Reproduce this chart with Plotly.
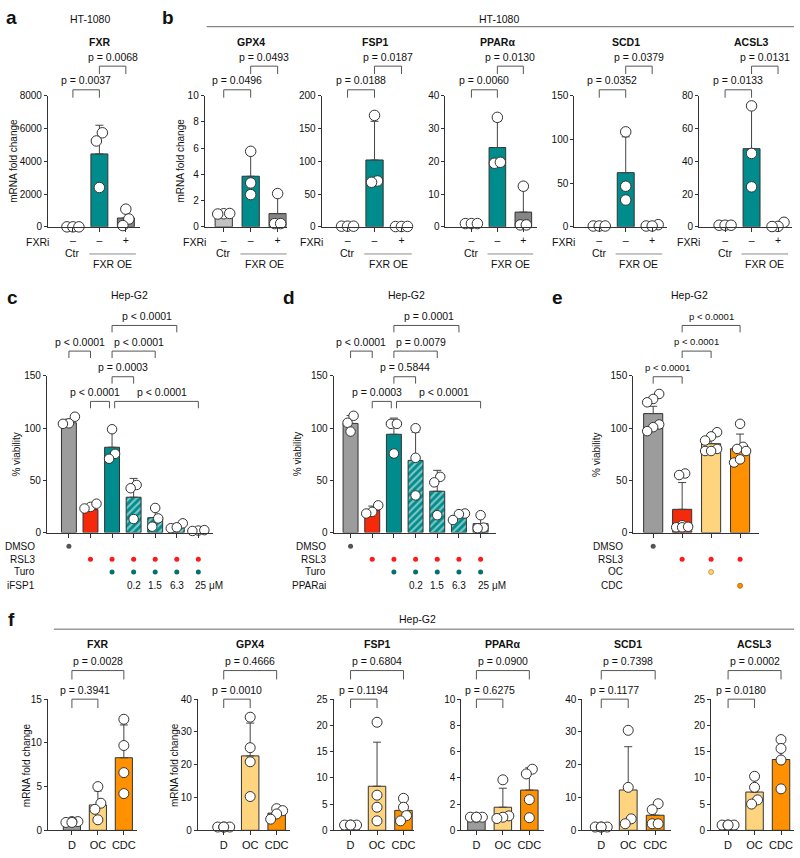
import plotly.graph_objects as go

# ======================= DATA =======================
# HT-1080 (panels a, b)
HT_groups = ["Ctr", "FXR OE", "FXR OE + FXRi"]
HT_fxri = ["–", "–", "+"]
HT_genes = ["FXR", "GPX4", "FSP1", "PPARα", "SCD1", "ACSL3"]

HT_FXR_mean = [1, 4450, 540]
HT_FXR_sd = [0, 1750, 500]
HT_FXR_pts = [[1, 1, 1], [5740, 5240, 2400], [1080, 480, 80]]
HT_FXR_p = ["p = 0.0037", "p = 0.0068"]

HT_GPX4_mean = [1.0, 3.86, 1.01]
HT_GPX4_sd = [0.02, 1.70, 1.32]
HT_GPX4_pts = [[1.0, 0.98, 1.02], [5.76, 3.35, 2.46], [2.54, 0.25, 0.25]]
HT_GPX4_p = ["p = 0.0496", "p = 0.0493"]

HT_FSP1_mean = [1.0, 102, 0.6]
HT_FSP1_sd = [0.0, 59, 0.1]
HT_FSP1_pts = [[1, 1, 1], [170, 70, 68], [0.5, 0.6, 0.7]]
HT_FSP1_p = ["p = 0.0188", "p = 0.0187"]

HT_PPARA_mean = [1.0, 24.2, 4.5]
HT_PPARA_sd = [0.05, 8.0, 6.8]
HT_PPARA_pts = [[1, 1, 1], [33.4, 19.4, 19.7], [12.4, 0.6, 0.6]]
HT_PPARA_p = ["p = 0.0060", "p = 0.0130"]

HT_SCD1_mean = [1.0, 62, 1.5]
HT_SCD1_sd = [0.0, 41, 0.8]
HT_SCD1_pts = [[1, 1, 1], [108.7, 46.5, 30.7], [2.5, 1, 1]]
HT_SCD1_p = ["p = 0.0352", "p = 0.0379"]

HT_ACSL3_mean = [1.0, 47.7, 1.1]
HT_ACSL3_sd = [0.0, 24.8, 1.5]
HT_ACSL3_pts = [[1, 1, 1], [73.8, 44.8, 24.4], [2.8, 0.3, 0.2]]
HT_ACSL3_p = ["p = 0.0133", "p = 0.0131"]

# Hep-G2 viability (panel c, iFSP1)
C_groups = ["DMSO", "RSL3", "RSL3+Turo", "iFSP1 0.2", "iFSP1 1.5", "iFSP1 6.3", "iFSP1 25"]
C_mean = [105, 22, 81.6, 33.8, 14.2, 6.0, 2.0]
C_sd = [3.5, 2.5, 14.5, 18, 9, 2.4, 0.4]
C_pts = [[110.8, 104.5, 104], [24.5, 27.6, 23], [98.8, 75.3, 70.6], [45.5, 42.4, 12.9],
         [23.5, 13.5, 5.6], [8.8, 4.1, 5.0], [1.9, 1.5, 2.3]]
C_dose = ["0.2", "1.5", "6.3", "25 μM"]
C_p = ["p < 0.0001", "p < 0.0001", "p = 0.0003", "p < 0.0001", "p < 0.0001", "p < 0.0001"]

# Hep-G2 viability (panel d, PPARai)
D_mean = [104.4, 21.3, 94, 69, 39.5, 15.5, 8.5]
D_sd = [7.5, 4, 15.5, 27, 20, 3.5, 6.5]
D_pts = [[111.7, 105, 96.6], [26, 19.8, 18.2], [104, 104, 75.6], [99.8, 71.5, 35.5],
         [53.3, 48, 16.6], [18.2, 17.6, 12], [16.6, 4.7, 4.1]]
D_dose = ["0.2", "1.5", "6.3", "25 μM"]
D_p = ["p < 0.0001", "p = 0.0003", "p = 0.5844", "p = 0.0079", "p = 0.0001", "p < 0.0001"]

# treatment matrix (c, d)
CD_dmso = [1, 0, 0, 0, 0, 0, 0]
CD_rsl3 = [0, 1, 1, 1, 1, 1, 1]
CD_turo = [0, 0, 1, 1, 1, 1, 1]

# Hep-G2 viability (panel e, bile acids)
E_groups = ["DMSO", "RSL3", "RSL3+OC", "RSL3+CDC"]
E_mean = [113.8, 22.2, 85.0, 80.2]
E_sd = [7, 25.6, 7, 14]
E_pts = [[132.6, 127.8, 124.6, 103.4, 100.8, 97],
         [56.5, 55, 7, 5, 5, 5.5],
         [96, 92, 88, 80, 78, 78],
         [104, 82, 80, 78, 67, 70]]
E_dmso = [1, 0, 0, 0]
E_rsl3 = [0, 1, 1, 1]
E_oc = [0, 0, 1, 0]
E_cdc = [0, 0, 0, 1]
E_p = ["p < 0.0001", "p < 0.0001", "p < 0.0001"]

# Hep-G2 mRNA (panel f)
F_groups = ["D", "OC", "CDC"]

F_FXR_mean = [0.95, 2.9, 8.3]
F_FXR_sd = [0.1, 1.6, 3.75]
F_FXR_pts = [[1.0, 1.0, 0.9, 0.9], [5.0, 3.1, 2.4, 1.2], [12.7, 9.7, 6.6, 4.2]]
F_FXR_p = ["p = 0.3941", "p = 0.0028"]

F_GPX4_mean = [1.0, 22.7, 5.25]
F_GPX4_sd = [0.1, 10.0, 1.4]
F_GPX4_pts = [[1, 1, 1, 1], [34.5, 25.2, 20.9, 10.3], [6.6, 6.0, 5.0, 3.4]]
F_GPX4_p = ["p = 0.0010", "p = 0.4666"]

F_FSP1_mean = [1.0, 8.4, 3.8]
F_FSP1_sd = [0.1, 8.4, 1.9]
F_FSP1_pts = [[1, 1, 1, 1], [20.6, 6.7, 4.4, 1.8], [6.1, 4.4, 2.8, 1.8]]
F_FSP1_p = ["p = 0.1194", "p = 0.6804"]

F_PPARA_mean = [1.0, 1.76, 3.07]
F_PPARA_sd = [0.05, 1.45, 1.7]
F_PPARA_pts = [[1, 1, 1, 1], [3.85, 1.1, 1.0, 0.9], [4.66, 4.3, 2.34, 0.96]]
F_PPARA_p = ["p = 0.6275", "p = 0.0900"]

F_SCD1_mean = [1.0, 12.3, 4.6]
F_SCD1_sd = [0.1, 13.2, 2.9]
F_SCD1_pts = [[1, 1, 1, 1], [30.5, 13.1, 3.5, 2.0], [8.1, 6.3, 2.0, 2.0]]
F_SCD1_p = ["p = 0.1177", "p = 0.7398"]

F_ACSL3_mean = [1.0, 7.3, 13.5]
F_ACSL3_sd = [0.1, 2.4, 4.0]
F_ACSL3_pts = [[1, 1, 1, 1], [10.3, 8.2, 5.8, 5.0], [17.3, 15.6, 13.4, 7.9]]
F_ACSL3_p = ["p = 0.0180", "p = 0.0002"]

# ======================= STYLE / LAYOUT =======================
W, H = 800, 858
FONT = "Liberation Sans, Arial, Helvetica, sans-serif"
TEAL = "#008C8C"
RED = "#F52A0A"
GRAY_L = "#C2C2C2"
GRAY_D = "#858585"
GRAY_M = "#9C9C9C"
OC_C = "#FFD47F"
CDC_C = "#FF9100"
LINE = "#333333"
BRK = "#555555"
FS = 10.5
TICK_FS = 10

fig = go.Figure()
layout = dict(width=W, height=H, margin=dict(l=0, r=0, t=0, b=0),
              paper_bgcolor="white", plot_bgcolor="rgba(0,0,0,0)", showlegend=False,
              font=dict(family=FONT, size=FS, color="#111"))
shapes = []
annotations = []
count = [0]


def X(px):
    return px / W


def Y(py):
    return 1 - py / H


def text(x, y, t, xref="paper", size=FS, bold=False, xanchor="center",
         yanchor="middle", angle=0, xshift=0, color="#111"):
    if bold:
        t = "<b>" + t + "</b>"
    annotations.append(dict(x=x, y=y, xref=xref, yref="paper", text=t, showarrow=False,
                            font=dict(size=size, family=FONT, color=color),
                            xanchor=xanchor, yanchor=yanchor, textangle=angle, xshift=xshift))


def hline(x0, x1, py, color="#666", width=1, xref="paper"):
    shapes.append(dict(type="line", xref=xref, yref="paper", x0=x0, x1=x1, y0=Y(py), y1=Y(py),
                       line=dict(color=color, width=width)))


def jitter(vals, ymax, hpx, step_px, gap=8.5, spread=6.0):
    n = len(vals)
    pys = [v / ymax * hpx for v in vals]
    order = sorted(range(n), key=lambda i: pys[i])
    groups = []
    for i in order:
        if groups and pys[i] - pys[groups[-1][-1]] < gap and len(groups[-1]) < 3:
            groups[-1].append(i)
        else:
            groups.append([i])
    offs = [0.0] * n
    for g in groups:
        m = len(g)
        for j, i in enumerate(g):
            offs[i] = (j - (m - 1) / 2) * spread / step_px
    return offs


def panel(mean, sd, pts, colors, ymax, dtick, ax_px, bar1_px, step_px, right_px, ytop, ybot,
          bw, msize, ticktext=None, patterns=None, xfs=FS):
    count[0] += 1
    k = count[0]
    xa = "x" if k == 1 else "x%d" % k
    ya = "y" if k == 1 else "y%d" % k
    xk = "xaxis" if k == 1 else "xaxis%d" % k
    yk = "yaxis" if k == 1 else "yaxis%d" % k
    n = len(mean)
    lo = -(bar1_px - ax_px) / step_px
    hi = (right_px - bar1_px) / step_px
    layout[xk] = dict(domain=[X(ax_px), X(right_px)], range=[lo, hi], anchor=ya,
                      showline=True, linecolor=LINE, linewidth=1, ticks="outside", ticklen=4,
                      tickcolor=LINE, tickwidth=1, tickvals=list(range(n)),
                      ticktext=ticktext if ticktext else [""] * n,
                      showticklabels=bool(ticktext), tickfont=dict(size=xfs, family=FONT, color="#111"),
                      showgrid=False, zeroline=False, fixedrange=True)
    layout[yk] = dict(domain=[Y(ybot), Y(ytop)], range=[0, ymax], anchor=xa,
                      showline=True, linecolor=LINE, linewidth=1, ticks="outside", ticklen=3,
                      tickcolor=LINE, tickwidth=1, tickvals=list(range(0, ymax + 1, dtick)),
                      tickfont=dict(size=TICK_FS, family=FONT, color="#111"),
                      showgrid=False, zeroline=False, fixedrange=True)
    pat = dict(shape=patterns if patterns else [""] * n, fgcolor="white", fillmode="overlay",
               size=5, solidity=0.42)
    fig.add_bar(x=list(range(n)), y=mean, width=bw, xaxis=xa, yaxis=ya,
                marker=dict(color=colors, line=dict(color=LINE, width=1), pattern=pat),
                error_y=dict(type="data", array=sd, arrayminus=[0] * n, symmetric=False,
                             color="#444", thickness=1, width=4),
                hoverinfo="skip")
    xs, ys = [], []
    for i, p in enumerate(pts):
        offs = jitter(p, ymax, ybot - ytop, step_px)
        xs += [i + o for o in offs]
        ys += list(p)
    fig.add_scatter(x=xs, y=ys, xaxis=xa, yaxis=ya, mode="markers", cliponaxis=False,
                    marker=dict(size=msize, color="white", line=dict(color=LINE, width=1)),
                    hoverinfo="skip")
    return xa, ya


def bracket(xa, a, b, py, t, leg=8, gap=9.5, size=FS, xshift=0):
    shapes.append(dict(type="path", xref=xa, yref="paper",
                       path="M %f,%f L %f,%f L %f,%f L %f,%f" % (a, Y(py + leg), a, Y(py), b, Y(py), b, Y(py + leg)),
                       line=dict(color=BRK, width=1)))
    text((a + b) / 2, Y(py - gap), t, xref=xa, size=size, xshift=xshift)


def dot_row(xa, flags, py, color, outline=None, r=2.5):
    for i, f in enumerate(flags):
        if not f:
            continue
        shapes.append(dict(type="circle", xref=xa, yref="paper", xsizemode="pixel", ysizemode="pixel",
                           xanchor=i, yanchor=Y(py), x0=-r, x1=r, y0=-r, y1=r,
                           fillcolor=color, line=dict(width=0.8 if outline else 0,
                                                      color=outline if outline else color)))


# ---------------- Row 1: HT-1080 (a, b) ----------------
R1_TOP, R1_BOT = 91, 224
row1 = [
    (HT_FXR_mean, HT_FXR_sd, HT_FXR_pts, HT_FXR_p, 8000, 2000, 48, 73, 26.5, 140, True),
    (HT_GPX4_mean, HT_GPX4_sd, HT_GPX4_pts, HT_GPX4_p, 10, 2, 205, 224, 27, 287, True),
    (HT_FSP1_mean, HT_FSP1_sd, HT_FSP1_pts, HT_FSP1_p, 200, 50, 322, 348, 27, 413, True),
    (HT_PPARA_mean, HT_PPARA_sd, HT_PPARA_pts, HT_PPARA_p, 40, 10, 446, 472, 26, 538, False),
    (HT_SCD1_mean, HT_SCD1_sd, HT_SCD1_pts, HT_SCD1_p, 150, 50, 575, 600, 26.5, 668, True),
    (HT_ACSL3_mean, HT_ACSL3_sd, HT_ACSL3_pts, HT_ACSL3_p, 80, 20, 700, 726, 26.5, 793, True),
]
for gi, (m, s, p, pv, ymax, dt, axp, b1, st, rp, lab) in enumerate(row1):
    xa, ya = panel(m, s, p, [GRAY_L, TEAL, GRAY_D], ymax, dt, axp, b1, st, rp, R1_TOP, R1_BOT,
                   0.64, 10.5, ticktext=HT_fxri)
    text(1, Y(37), HT_genes[gi], xref=xa, bold=True)
    bracket(xa, 0, 1, 85, pv[0])
    bracket(xa, 1, 2, 61, pv[1])
    if lab:
        text(X(axp + 3), Y(239), "FXRi", xanchor="right")
    text(0, Y(250), HT_groups[0], xref=xa)
    shapes.append(dict(type="line", xref=xa, yref="paper", x0=0.62, x1=2.38, y0=Y(251.5), y1=Y(251.5),
                       line=dict(color="#8a8a8a", width=1)))
    text(1.5, Y(262), "FXR OE", xref=xa)

text(X(14), Y(157), "mRNA fold change", angle=-90, size=10)
text(X(181), Y(157), "mRNA fold change", angle=-90, size=10)
text(X(90), Y(13), "HT-1080")
text(X(500), Y(13), "HT-1080")
hline(X(207), X(795), 21)
text(X(4), Y(12), "a", bold=True, size=19, xanchor="left")
text(X(160), Y(12), "b", bold=True, size=19, xanchor="left")

# ---------------- Row 2: Hep-G2 viability (c, d, e) ----------------
R2_TOP, R2_BOT = 375, 534
hatch = ["", "", "", "/", "/", "/", "/"]
cd_colors = [GRAY_M, RED, TEAL, TEAL, TEAL, TEAL, TEAL]
ROWS_Y = [548, 561, 574, 588]
ROW_FS = 10

# c
xa, ya = panel(C_mean, C_sd, C_pts, cd_colors, 150, 50, 47, 69, 21.6, 213, R2_TOP, R2_BOT,
               0.69, 9.5, patterns=hatch)
bracket(xa, 0, 1, 350, C_p[0], leg=7)
bracket(xa, 1, 1.88, 401, C_p[1], leg=7, xshift=-5)
bracket(xa, 2, 3, 376, C_p[2], leg=7)
bracket(xa, 2, 4, 350, C_p[3], leg=7, xshift=5)
bracket(xa, 2, 5, 324, C_p[4], leg=7, xshift=3)
bracket(xa, 2.12, 6, 401, C_p[5], leg=7, xshift=5)
dot_row(xa, CD_dmso, ROWS_Y[0], "#555555")
dot_row(xa, CD_rsl3, ROWS_Y[1], "#FF1A1A")
dot_row(xa, CD_turo, ROWS_Y[2], "#0A6E6E")
for i, t in enumerate(C_dose[:3]):
    text(3 + i, Y(ROWS_Y[3]), t, xref=xa, size=ROW_FS)
text(6, Y(ROWS_Y[3]), C_dose[3], xref=xa, xanchor="left", xshift=-5, size=ROW_FS)
for lab, py in zip(["DMSO", "RSL3", "Turo", "iFSP1"], ROWS_Y):
    text(X(37), Y(py), lab, xanchor="right", size=ROW_FS)
text(X(17), Y(455), "% viability", angle=-90, size=10)
text(X(130), Y(293), "Hep-G2")
text(X(5), Y(296), "c", bold=True, size=19, xanchor="left")

# d
xa, ya = panel(D_mean, D_sd, D_pts, cd_colors, 150, 50, 334, 351, 21.7, 497, R2_TOP, R2_BOT,
               0.69, 9.5, patterns=hatch)
bracket(xa, 0, 1, 350, D_p[0], leg=7)
bracket(xa, 1, 1.88, 401, D_p[1], leg=7, xshift=-5)
bracket(xa, 2, 3, 376, D_p[2], leg=7)
bracket(xa, 2, 4, 350, D_p[3], leg=7, xshift=5)
bracket(xa, 2, 5, 324, D_p[4], leg=7, xshift=3)
bracket(xa, 2.12, 6, 401, D_p[5], leg=7, xshift=5)
dot_row(xa, CD_dmso, ROWS_Y[0], "#555555")
dot_row(xa, CD_rsl3, ROWS_Y[1], "#FF1A1A")
dot_row(xa, CD_turo, ROWS_Y[2], "#0A6E6E")
for i, t in enumerate(D_dose[:3]):
    text(3 + i, Y(ROWS_Y[3]), t, xref=xa, size=ROW_FS)
text(6, Y(ROWS_Y[3]), D_dose[3], xref=xa, xanchor="left", xshift=-5, size=ROW_FS)
for lab, py in zip(["DMSO", "RSL3", "Turo", "PPARai"], ROWS_Y):
    text(X(328), Y(py), lab, xanchor="right", size=ROW_FS)
text(X(298), Y(455), "% viability", angle=-90, size=10)
text(X(407), Y(293), "Hep-G2")
text(X(281), Y(296), "d", bold=True, size=19, xanchor="left")

# e
xa, ya = panel(E_mean, E_sd, E_pts, [GRAY_M, RED, OC_C, CDC_C], 150, 50, 634, 654, 29, 760,
               R2_TOP, R2_BOT, 0.66, 9.5)
bracket(xa, 0, 1, 376, E_p[0], leg=7, size=9.5)
bracket(xa, 1, 2, 350, E_p[1], leg=7, size=9.5)
bracket(xa, 1, 3, 324, E_p[2], leg=7, size=9.5)
dot_row(xa, E_dmso, ROWS_Y[0], "#555555")
dot_row(xa, E_rsl3, ROWS_Y[1], "#FF1A1A")
dot_row(xa, E_oc, ROWS_Y[2], OC_C, outline="#C08A30")
dot_row(xa, E_cdc, ROWS_Y[3], CDC_C, outline="#B05A00")
for lab, py in zip(["DMSO", "RSL3", "OC", "CDC"], ROWS_Y):
    text(X(626), Y(py), lab, xanchor="right", size=ROW_FS)
text(X(597), Y(455), "% viability", angle=-90, size=10)
text(X(690), Y(293), "Hep-G2")
text(X(551), Y(296), "e", bold=True, size=19, xanchor="left")

# ---------------- Row 3: Hep-G2 mRNA (f) ----------------
R3_TOP, R3_BOT = 703, 836
F_genes = ["FXR", "GPX4", "FSP1", "PPARα", "SCD1", "ACSL3"]
row3 = [
    (F_FXR_mean, F_FXR_sd, F_FXR_pts, F_FXR_p, 15, 5, 48, 72, 26, 137),
    (F_GPX4_mean, F_GPX4_sd, F_GPX4_pts, F_GPX4_p, 40, 10, 198, 224, 26.5, 290),
    (F_FSP1_mean, F_FSP1_sd, F_FSP1_pts, F_FSP1_p, 25, 5, 334, 351, 26.5, 415),
    (F_PPARA_mean, F_PPARA_sd, F_PPARA_pts, F_PPARA_p, 10, 2, 462, 477, 26.5, 545),
    (F_SCD1_mean, F_SCD1_sd, F_SCD1_pts, F_SCD1_p, 40, 10, 583, 602, 27, 672),
    (F_ACSL3_mean, F_ACSL3_sd, F_ACSL3_pts, F_ACSL3_p, 25, 5, 712, 729, 26.5, 795),
]
for gi, (m, s, p, pv, ymax, dt, axp, b1, st, rp) in enumerate(row3):
    xa, ya = panel(m, s, p, [GRAY_M, OC_C, CDC_C], ymax, dt, axp, b1, st, rp, R3_TOP, R3_BOT,
                   0.66, 10, ticktext=F_groups, xfs=11)
    text(1, Y(647), F_genes[gi], xref=xa, bold=True)
    bracket(xa, 0, 1, 703, pv[0], leg=9)
    bracket(xa, 0, 2, 674, pv[1], leg=9)

text(X(26), Y(770), "mRNA fold change", angle=-90, size=10)
text(X(174), Y(770), "mRNA fold change", angle=-90, size=10)
hline(X(54), X(795), 632)
text(X(418), Y(622), "Hep-G2")
text(X(6), Y(622), "f", bold=True, size=19, xanchor="left")

layout["shapes"] = shapes
layout["annotations"] = annotations
fig.update_layout(**layout)
fig.write_html("out.html", config={"displayModeBar": False},
               post_script="document.body.style.margin='0';document.body.style.overflow='hidden';")
